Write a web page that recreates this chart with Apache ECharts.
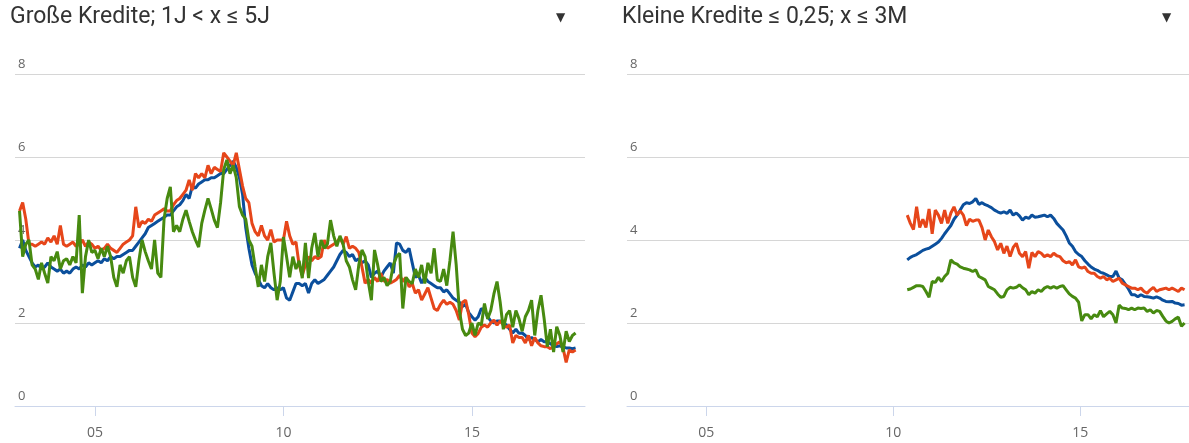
<!DOCTYPE html>
<html>
<head>
<meta charset="utf-8">
<script src="https://cdn.jsdelivr.net/npm/echarts@6/dist/echarts.min.js"></script>
<style>
html,body{margin:0;padding:0;background:#fff;}
#chart{width:1189px;height:443px;}
</style>
</head>
<body>
<div id="chart"></div>
<script>
// Panel titles
const titles = ['Große Kredite; 1J < x ≤ 5J', 'Kleine Kredite ≤ 0,25; x ≤ 3M'];
// X tick years and labels
const tickYears = [2005, 2010, 2015];
const tickLabels = ['05', '10', '15'];
// Monthly series start (decimal year)
const leftStart = 2003.0;
const rightStart = 2010.375;

// Left panel: Große Kredite (monthly, from Jan 2003)
const leftBlue = [
 3.8,4.0,3.75,3.6,3.45,3.35,3.4,3.3,3.35,3.45,3.35,3.3,
 3.25,3.3,3.2,3.25,3.2,3.3,3.35,3.3,3.4,3.35,3.45,3.4,
 3.45,3.5,3.45,3.55,3.5,3.6,3.55,3.6,3.6,3.65,3.7,3.75,
 3.75,3.85,3.95,4.05,4.15,4.3,4.35,4.4,4.45,4.5,4.55,4.6,
 4.6,4.7,4.8,4.85,4.95,5.1,5.0,5.3,5.25,5.35,5.4,5.45,
 5.45,5.5,5.5,5.55,5.6,5.6,5.7,5.8,5.9,5.75,5.5,5.1,
 4.3,3.8,3.4,3.2,3.05,2.9,2.85,2.95,2.85,2.8,2.85,2.8,
 2.85,2.6,2.55,2.75,2.95,2.95,2.9,2.95,2.72,2.95,3.04,2.95,
 3.0,3.05,3.15,3.25,3.35,3.5,3.65,3.75,3.7,3.6,3.65,3.5,
 3.55,3.45,3.5,3.4,3.1,3.2,3.25,3.1,3.25,3.35,3.45,3.2,
 3.93,3.9,3.75,3.7,3.8,3.45,3.1,3.15,2.96,3.1,3.0,2.95,
 2.9,2.85,2.85,2.75,2.8,2.7,2.6,2.55,2.5,2.4,2.45,2.25,
 2.15,2.07,2.15,2.35,2.3,2.15,2.05,2.0,2.05,2.05,2.0,1.95,
 1.85,1.76,1.85,1.75,1.76,1.7,1.6,1.65,1.6,1.55,1.6,1.55,
 1.55,1.5,1.45,1.43,1.45,1.42,1.4,1.4,1.38,1.4
];
const leftRed = [
 4.7,4.9,4.5,3.9,3.9,3.85,3.9,3.95,3.9,4.05,3.95,4.1,
 3.9,4.35,3.9,3.85,3.9,3.95,3.85,3.9,4.0,3.85,3.95,3.9,
 3.8,3.85,3.75,3.8,3.9,3.8,3.75,3.7,3.8,3.9,3.95,4.0,
 4.1,4.8,4.3,4.45,4.4,4.5,4.45,4.6,4.65,4.7,4.75,4.7,
 4.7,4.85,4.95,5.0,5.1,5.2,5.45,5.2,5.6,5.5,5.6,5.5,
 5.8,5.6,5.75,5.7,5.65,6.1,6.0,5.9,5.8,6.1,5.7,5.3,
 5.0,4.9,4.4,4.2,4.1,4.35,4.1,4.0,4.25,3.95,4.0,4.0,
 4.0,4.45,4.1,3.9,3.95,3.4,3.15,3.4,3.6,3.5,3.6,3.55,
 3.6,4.0,3.8,3.85,3.9,3.95,4.05,3.9,4.08,3.8,3.85,3.8,
 3.7,3.35,2.96,3.05,2.96,3.1,3.0,3.2,3.0,3.05,2.96,3.0,
 3.05,3.15,3.0,3.1,2.87,2.95,2.72,2.8,2.55,2.7,2.85,2.6,
 2.35,2.3,2.45,2.55,2.45,2.5,2.45,2.3,2.07,2.5,2.55,2.2,
 1.76,1.67,1.75,1.9,1.95,1.9,2.0,2.07,1.95,2.05,1.95,1.9,
 1.95,1.52,1.7,1.65,1.65,1.52,1.7,1.45,1.65,1.52,1.45,1.43,
 1.43,1.38,1.45,1.5,1.55,1.4,1.05,1.35,1.3,1.35
];
const leftGreen = [
 4.7,3.6,3.9,4.0,3.4,3.3,3.05,3.45,3.2,2.96,3.6,3.5,
 3.72,3.3,3.5,3.55,3.4,3.6,3.45,4.6,2.72,3.6,4.0,3.7,
 3.75,3.55,3.8,3.6,3.85,3.6,3.1,2.87,3.4,3.2,3.5,3.6,
 3.1,2.87,3.5,4.0,3.72,3.5,3.3,4.0,3.2,3.1,4.5,5.0,
 5.28,4.2,4.35,4.2,4.5,4.72,4.45,4.2,4.0,3.83,4.4,4.72,
 5.0,4.75,4.48,4.3,4.9,5.7,5.93,5.6,5.8,5.5,4.8,4.6,
 4.5,4.0,3.85,3.35,2.87,3.4,3.0,3.6,3.93,3.2,2.55,3.0,
 4.07,3.6,3.1,3.6,3.3,3.5,3.08,3.93,3.08,3.8,4.17,3.6,
 4.0,3.8,3.9,4.48,4.1,3.85,4.1,3.9,3.5,3.35,3.04,2.8,
 3.4,3.76,3.6,3.0,2.55,3.76,3.4,3.0,3.1,2.9,3.0,3.4,
 3.6,3.68,2.35,3.1,3.0,2.95,3.3,3.1,3.4,2.95,3.45,3.2,
 3.8,3.04,3.0,3.3,2.9,3.5,4.2,3.4,2.3,1.85,1.7,1.76,
 2.0,1.7,2.0,1.95,2.47,2.1,2.3,2.7,3.0,2.5,1.85,2.2,
 2.3,1.9,2.3,2.1,1.8,2.15,2.3,2.55,1.7,2.3,2.67,2.1,
 1.43,1.85,1.3,1.91,1.7,1.3,1.8,1.55,1.7,1.76
];

// Right panel: Kleine Kredite (monthly, from mid 2010)
const rightBlue = [
 3.52,3.58,3.62,3.65,3.7,3.75,3.78,3.8,3.85,3.9,
 3.95,4.04,4.15,4.25,4.35,4.5,4.6,4.72,4.85,4.9,
 4.88,4.92,5.0,4.86,4.9,4.85,4.82,4.78,4.72,4.68,
 4.65,4.68,4.64,4.72,4.6,4.65,4.58,4.48,4.55,4.52,
 4.6,4.55,4.56,4.58,4.6,4.56,4.6,4.52,4.4,4.32,
 4.24,4.1,3.93,3.85,3.72,3.65,3.6,3.5,3.42,3.35,
 3.3,3.27,3.22,3.2,3.16,3.12,3.12,3.25,3.08,3.04,
 2.93,2.82,2.68,2.68,2.63,2.68,2.64,2.63,2.62,2.6,
 2.63,2.6,2.55,2.52,2.51,2.52,2.48,2.47,2.43,2.44
];
const rightRed = [
 4.6,4.4,4.25,4.8,4.3,4.5,4.3,4.75,4.15,4.72,
 4.6,4.4,4.72,4.4,4.65,4.8,4.6,4.7,4.6,4.35,
 4.5,4.45,4.48,4.48,4.3,4.0,4.24,4.08,3.96,3.76,
 3.92,3.68,3.85,3.6,3.82,3.92,3.68,3.6,3.72,3.32,
 3.7,3.6,3.72,3.68,3.6,3.64,3.6,3.68,3.62,3.6,
 3.5,3.45,3.48,3.4,3.52,3.35,3.32,3.35,3.24,3.2,
 3.2,3.12,3.08,3.12,3.04,3.08,3.0,3.04,3.08,2.96,
 2.92,2.88,2.84,2.84,2.8,2.84,2.76,2.72,2.8,2.86,
 2.76,2.8,2.82,2.84,2.8,2.84,2.8,2.76,2.84,2.8
];
const rightGreen = [
 2.8,2.82,2.86,2.9,2.9,2.88,2.76,2.62,3.0,2.98,
 3.1,3.0,3.12,3.2,3.52,3.45,3.42,3.35,3.32,3.3,
 3.28,3.24,3.28,3.12,3.08,3.04,2.88,2.84,2.8,2.7,
 2.62,2.64,2.8,2.86,2.84,2.86,2.92,2.85,2.8,2.68,
 2.76,2.72,2.8,2.76,2.84,2.88,2.84,2.88,2.84,2.88,
 2.9,2.8,2.7,2.64,2.6,2.5,2.05,2.2,2.2,2.1,
 2.2,2.15,2.3,2.15,2.22,2.28,2.2,2.0,2.43,2.36,
 2.35,2.32,2.36,2.32,2.36,2.35,2.36,2.28,2.32,2.24,
 2.3,2.28,2.16,2.05,2.0,2.04,2.1,2.14,1.92,2.0
];

const COLORS = {blue:'#0b4f9c', red:'#e6461a', green:'#478a10'};
const pairs = (start, vals) => vals.map((v, i) => [start + i / 12, v]);

function xAxisCfg(gi, max) {
  return {
    gridIndex: gi, type: 'value', min: 2002.88, max: max,
    axisLine: {show: true, lineStyle: {color: '#ccd6eb', width: 1}},
    axisTick: {show: true, customValues: tickYears, length: 10, lineStyle: {color: '#ccd6eb'}},
    axisLabel: {
      customValues: tickYears, margin: 20, color: '#666', fontSize: 14,
      fontFamily: 'Open Sans',
      formatter: v => tickLabels[tickYears.indexOf(Math.round(v))] || ''
    },
    splitLine: {show: false}
  };
}
function yAxisCfg(gi) {
  return {
    gridIndex: gi, type: 'value', min: 0, max: 8, interval: 2,
    axisLine: {show: false}, axisTick: {show: false},
    splitLine: {lineStyle: {color: '#d6d6d6', width: 1}},
    axisLabel: {inside: true, verticalAlign: 'bottom', margin: 3, color: '#666',
      fontSize: 13, fontFamily: 'Open Sans', padding: [0, 0, 3, 0]}
  };
}
function line(gi, vals, start, color) {
  return {
    type: 'line', xAxisIndex: gi, yAxisIndex: gi, data: pairs(start, vals),
    showSymbol: false, symbol: 'none', lineStyle: {color: color, width: 3},
    itemStyle: {color: color}, emphasis: {disabled: true}, z: 2
  };
}

const titleStyle = {fontFamily: 'Roboto', fontSize: 23, fontWeight: 'normal', color: '#333'};
const chart = echarts.init(document.getElementById('chart'), null, {renderer: 'canvas'});
chart.setOption({
  animation: false,
  backgroundColor: '#fff',
  title: [
    {text: titles[0], left: 10, top: 6, padding: 0, textStyle: titleStyle},
    {text: titles[1], left: 622, top: 6, padding: 0, textStyle: titleStyle}
  ],
  graphic: [
    {type: 'text', left: 556, top: 12, style: {text: '▼', fontSize: 12, fill: '#333', fontFamily: 'DejaVu Sans'}},
    {type: 'text', left: 1162, top: 12, style: {text: '▼', fontSize: 12, fill: '#333', fontFamily: 'DejaVu Sans'}}
  ],
  grid: [
    {left: 15, top: 74, width: 570, height: 332},
    {left: 627, top: 74, width: 562, height: 332}
  ],
  xAxis: [xAxisCfg(0, 2018.0), xAxisCfg(1, 2017.91)],
  yAxis: [yAxisCfg(0), yAxisCfg(1)],
  series: [
    line(0, leftBlue, leftStart, COLORS.blue),
    line(0, leftRed, leftStart, COLORS.red),
    line(0, leftGreen, leftStart, COLORS.green),
    line(1, rightBlue, rightStart, COLORS.blue),
    line(1, rightRed, rightStart, COLORS.red),
    line(1, rightGreen, rightStart, COLORS.green)
  ]
});
</script>
</body>
</html>
